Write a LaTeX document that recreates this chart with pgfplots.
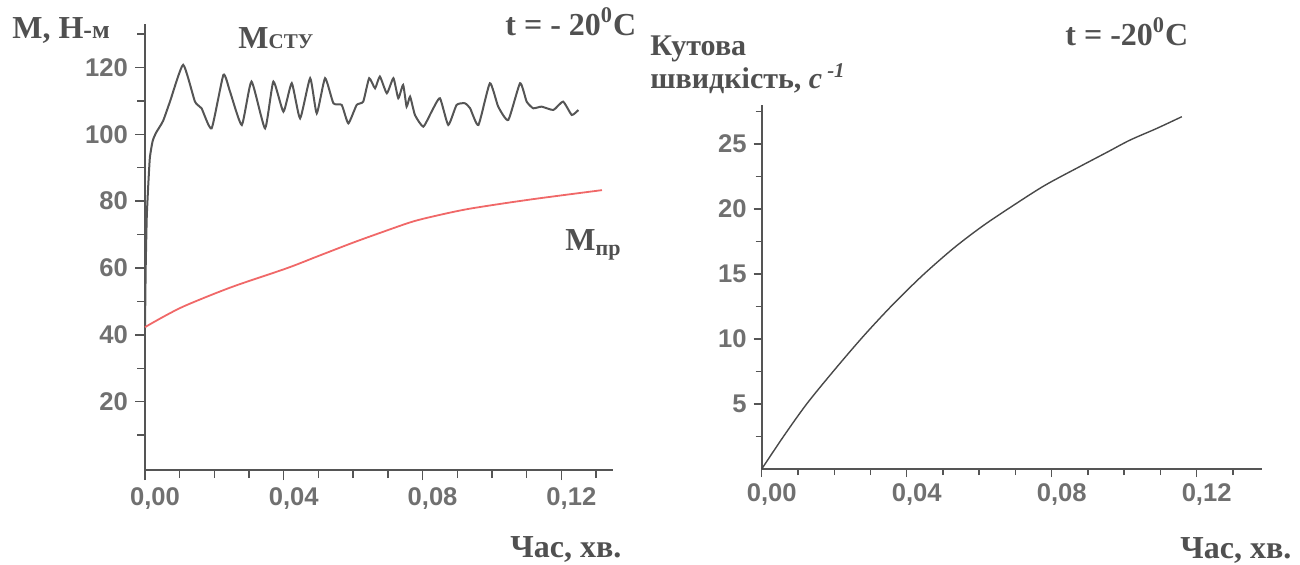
\documentclass[border=0pt]{standalone}
\usepackage{fontspec}
\setmainfont{Liberation Serif}
\setsansfont{Liberation Sans}
\usepackage{pgfplots}
\pgfplotsset{compat=1.18}
\definecolor{txt}{HTML}{505050}
\definecolor{tck}{HTML}{707070}
\definecolor{axl}{HTML}{555555}
\definecolor{crv}{HTML}{555555}
\definecolor{redc}{HTML}{F06868}
\begin{document}
\begin{tikzpicture}
\useasboundingbox (0,0) rectangle (650pt,282pt);
\pgfplotsset{
  myax/.style={
    scale only axis,
    axis lines=left,
    axis line style={-, axl, line width=0.8pt},
    tick align=outside,
    tick style={axl, line width=0.7pt},
    major tick length=5pt,
    minor tick length=4pt,
    ticklabel style={font=\sffamily\bfseries\fontsize{12.8}{14}\selectfont, text=tck},
    xticklabel style={xshift=5pt},
    clip=false,
  }
}
% Left axis
\begin{axis}[myax,
  at={(72.5pt,46.95pt)}, anchor=south west,
  width=234.2pt, height=223pt,
  xmin=0, xmax=0.135, ymin=-0.5, ymax=133,
  xtick={0,0.04,0.08,0.12},
  xticklabels={{0,00},{0,04},{0,08},{0,12}},
  minor xtick={0.01,0.02,0.03,0.05,0.06,0.07,0.09,0.10,0.11,0.13},
  ytick={20,40,60,80,100,120},
  yticklabels={20,40,60,80,100,120},
  minor ytick={10,30,50,70,90,110,130},
]
\addplot[crv, line width=1pt, smooth, tension=0.3] coordinates {
(0,42) (0.0002,60) (0.0005,75) (0.0009,84) (0.0014,93) (0.0022,98) (0.0032,100.5)
(0.0052,104) (0.0072,109.8) (0.0110,120.8) (0.0144,109.8) (0.0163,107.8) (0.0192,101.8)
(0.0226,117.8) (0.0245,112.8) (0.0279,102.8) (0.0307,115.8) (0.0346,101.8) (0.0370,115.8)
(0.0399,106.8) (0.0423,115.3) (0.0447,104.8) (0.0476,116.8) (0.0495,106.3) (0.0519,116.8)
(0.0543,109.3) (0.0567,108.8) (0.0586,103.3) (0.0610,108.8) (0.0629,109.8) (0.0646,116.8)
(0.0663,113.8) (0.0677,117.3) (0.0697,112.3) (0.0716,116.8) (0.0730,110.8) (0.0744,114.8)
(0.0754,108.3) (0.0764,111.3) (0.0778,105.8) (0.0802,102.3) (0.0826,106.8) (0.0850,110.8)
(0.0874,102.8) (0.0898,108.8) (0.0922,109.3) (0.0937,107.8) (0.0961,102.8) (0.0994,115.3)
(0.1018,108.3) (0.1047,104.3) (0.1081,115.3) (0.1100,109.8) (0.1119,107.8) (0.1143,108.3)
(0.1177,107.3) (0.1205,109.8) (0.1230,105.8) (0.1249,107.3)
};
\addplot[redc, line width=0.9pt, smooth] coordinates {
(0,42.3) (0.006,45.8) (0.012,48.9) (0.025,54.3) (0.0408,59.9) (0.050,63.6) (0.060,67.6)
(0.068,70.6) (0.0772,73.9) (0.085,75.9) (0.0928,77.6) (0.1025,79.2) (0.1118,80.6)
(0.122,82.0) (0.1317,83.3)
};
\end{axis}
% Right axis
\begin{axis}[myax,
  at={(380.85pt,47.5pt)}, anchor=south west,
  width=250.1pt, height=182pt,
  xmin=0, xmax=0.138, ymin=0, ymax=28,
  xtick={0,0.04,0.08,0.12},
  xticklabels={{0,00},{0,04},{0,08},{0,12}},
  minor xtick={0.01,0.02,0.03,0.05,0.06,0.07,0.09,0.10,0.11,0.13},
  ytick={5,10,15,20,25},
  yticklabels={5,10,15,20,25},
  minor ytick={2.5,7.5,12.5,17.5,22.5,27.5},
  major tick length=4pt, minor tick length=3pt,
]
\addplot[crv!85!black, line width=0.7pt, smooth] coordinates {
(0,0) (0.006,2.5) (0.0124,5.0) (0.020,7.6) (0.028,10.2) (0.036,12.6) (0.0444,14.9)
(0.053,17.0) (0.061,18.7) (0.069,20.2) (0.078,21.8) (0.088,23.3) (0.0955,24.4)
(0.1016,25.3) (0.109,26.2) (0.1159,27.1)
};
\end{axis}
% Texts
\begin{scope}[every node/.style={text=txt, font=\bfseries\fontsize{16}{18}\selectfont, inner sep=0pt}]
\node[anchor=base west] at (6pt,263pt) {M, H{\fontsize{13}{15}\selectfont-м}};
\node[anchor=base west] at (119pt,258pt) {M{\fontsize{10.5}{12}\selectfont СТУ}};
\node[anchor=base west] at (252.5pt,264.5pt) {t = - 20\textsuperscript{0}C};
\node[anchor=base west] at (282.5pt,157pt) {M\raisebox{-2.5pt}{\fontsize{11}{12}\selectfont пр}};
\node[anchor=base west] at (255pt,3.5pt) {Час, хв.};
\node[anchor=base west, font=\bfseries\fontsize{15}{18}\selectfont] at (325pt,254.5pt) {Кутова};
\node[anchor=base west, font=\bfseries\fontsize{15}{18}\selectfont] at (325pt,238pt) {швидкість, \textit{c}\,\textsuperscript{\textit{-1}}};
\node[anchor=base west] at (532.5pt,259.5pt) {t = -20\textsuperscript{0}C};
\node[anchor=base west] at (590pt,3pt) {Час, хв.};
\end{scope}
\end{tikzpicture}
\end{document}
